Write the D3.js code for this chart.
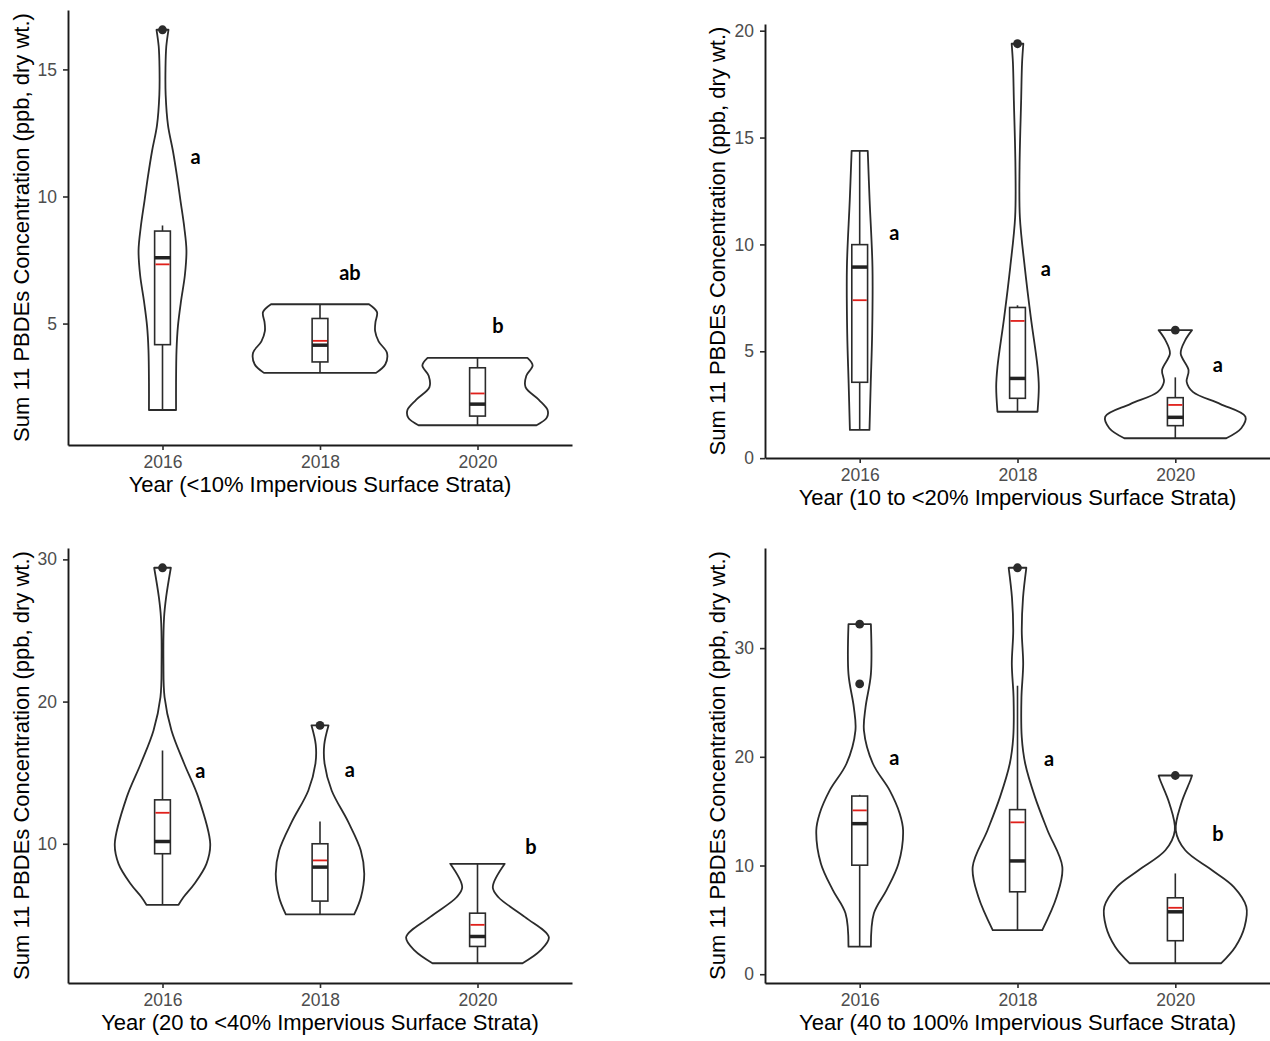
<!DOCTYPE html>
<html>
<head>
<meta charset="utf-8">
<script src="https://cdn.jsdelivr.net/npm/d3@7"></script>
<style>
  body { margin: 0; background: #fff; }
  svg { display: block; }
  text { font-family: "Liberation Sans", Arial, sans-serif; }
</style>
</head>
<body>
<svg id="chart" width="1270" height="1041"></svg>
<script>
// ---- data -------------------------------------------------------------
const years = ["2016", "2018", "2020"];
const xTitles = [
  "Year (<10% Impervious Surface Strata)",
  "Year (10 to <20% Impervious Surface Strata)",
  "Year (20 to <40% Impervious Surface Strata)",
  "Year (40 to 100% Impervious Surface Strata)"
];
const yTitle = "Sum 11 PBDEs Concentration (ppb, dry wt.)";
const yTicks = [[5, 10, 15], [0, 5, 10, 15, 20], [10, 20, 30], [0, 10, 20, 30]];

// violin outlines: [concentration, half-width in category units], top to bottom
const violinLt10 = [
  [[16.56, .038], [15.9, .024], [15.07, .019], [14.0, .020], [12.8, .035], [11.8, .066], [10.8, .092], [9.84, .114], [8.8, .138], [7.88, .152], [6.9, .142], [5.9, .118], [4.9, .098], [3.95, .089], [2.66, .086], [1.6, .086]],
  [[5.76, .311], [5.45, .362], [5.05, .352], [4.7, .350], [4.3, .372], [3.85, .425], [3.4, .415], [3.06, .356]],
  [[3.65, .317], [3.35, .350], [2.95, .310], [2.5, .305], [2.0, .390], [1.6, .445], [1.3, .440], [1.0, .375]]
];
const violin10to20 = [
  [[14.38, .051], [12.05, .063], [8.94, .081], [5.83, .079], [3.5, .070], [1.32, .062]],
  [[19.39, .037], [18.5, .029], [16.72, .023], [13.61, .013], [11.27, .015], [8.94, .046], [6.61, .084], [4.27, .127], [3.34, .135], [2.17, .127]],
  [[5.99, .106], [5.52, .063], [4.9, .034], [4.12, .084], [3.57, .072], [3.1, .111], [2.53, .286], [1.94, .444], [1.4, .418], [0.93, .323]]
];
const violin20to40 = [
  [[29.41, .053], [27.34, .023], [25.93, .010], [22.66, .006], [20.31, .013], [17.97, .057], [15.63, .138], [13.28, .227], [10.0, .303], [8.59, .279], [7.19, .203], [6.24, .133], [5.71, .102]],
  [[18.32, .054], [16.97, .027], [15.63, .029], [13.75, .074], [11.52, .180], [9.53, .259], [7.89, .281], [6.24, .260], [5.03, .217]],
  [[8.59, .173], [6.94, .097], [6.24, .133], [4.84, .302], [3.43, .453], [2.5, .400], [1.6, .286]]
];
const violin40to100 = [
  [[32.2, .071], [27.61, .071], [24.55, .037], [22.41, .027], [19.36, .084], [16.91, .190], [14.77, .254], [13.24, .275], [10.18, .246], [7.73, .170], [5.6, .090], [2.53, .071]],
  [[37.39, .056], [34.64, .035], [31.59, .027], [28.53, .036], [25.47, .025], [21.8, .027], [19.36, .049], [16.29, .111], [13.24, .190], [9.87, .284], [7.12, .248], [4.06, .157]],
  [[18.28, .106], [17.82, .095], [15.69, .037], [13.24, .003], [11.4, .063], [9.57, .233], [8.04, .370], [6.2, .450], [4.37, .439], [2.53, .381], [1.01, .291]]
];

// box-plot statistics per stratum (rows) and year (columns)
const whiskerLow  = [[1.6, 3.06, 1.0], [1.32, 2.17, 0.93], [5.71, 5.03, 1.6], [2.53, 4.06, 1.01]];
const q1          = [[4.17, 3.49, 1.36], [3.55, 2.8, 1.52], [9.3, 5.97, 2.78], [10.03, 7.58, 3.08]];
const medians     = [[7.59, 4.15, 1.83], [8.94, 3.73, 1.91], [10.16, 8.36, 3.48], [13.85, 10.42, 5.74]];
const q3          = [[8.64, 5.2, 3.26], [9.99, 7.05, 2.83], [13.09, 10.0, 5.12], [16.39, 15.14, 7.03]];
const whiskerHigh = [[8.86, 5.76, 3.65], [14.38, 7.15, 3.78], [16.56, 11.57, 8.59], [16.5, 26.54, 9.27]];
const means       = [[7.33, 4.32, 2.25], [7.39, 6.42, 2.49], [12.18, 8.83, 4.3], [15.07, 13.97, 6.11]];
const outliers    = [[[16.56], [], []], [[], [19.39], [5.99]], [[29.41], [18.32], []], [[32.2, 26.7], [37.39], [18.28]]];

// significance letters: text, concentration of baseline, offset from year (category units)
const letters  = [["a", "ab", "b"], ["a", "a", "a"], ["a", "a", "b"], ["a", "a", "b"]];
const letterY  = [[11.26, 6.73, 4.63], [10.22, 8.51, 4.01], [14.64, 14.68, 9.3], [19.27, 19.2, 12.23]];
const letterDx = [[0.21, 0.19, 0.13], [0.22, 0.18, 0.27], [0.24, 0.19, 0.34], [0.22, 0.20, 0.27]];

const violins = [violinLt10, violin10to20, violin20to40, violin40to100];

// ---- layout -----------------------------------------------------------
const panels = [
  { left: 68,  right: 572,  top: 10,  bottom: 445, titleX: 29 },
  { left: 765, right: 1270, top: 24,  bottom: 458, titleX: 725 },
  { left: 68,  right: 572,  top: 548, bottom: 983, titleX: 29 },
  { left: 765, right: 1270, top: 548, bottom: 983, titleX: 725 }
];

const svg = d3.select("#chart");
const ink = "#2b2b2b";

panels.forEach((p, i) => {
  const g = svg.append("g");
  const x = d3.scalePoint().domain(years).range([p.left, p.right]).padding(0.6);
  const step = x.step();

  // y range follows the data with a 5% margin on both ends
  const allVals = violins[i].flat().map(d => d[0]).concat(outliers[i].flat());
  const lo = d3.min(allVals), hi = d3.max(allVals), pad = (hi - lo) * 0.05;
  const y = d3.scaleLinear().domain([lo - pad, hi + pad]).range([p.bottom, p.top]);

  // violins
  years.forEach((yr, j) => {
    const cx = x(yr);
    const area = d3.area()
      .y(d => y(d[0]))
      .x0(d => cx - d[1] * step)
      .x1(d => cx + d[1] * step)
      .curve(d3.curveCatmullRom.alpha(0.5));
    g.append("path")
      .attr("d", area(violins[i][j]))
      .attr("fill", "none")
      .attr("stroke", ink)
      .attr("stroke-width", 1.8)
      .attr("stroke-linejoin", "round");
  });

  // box plots
  const bw = 0.05 * step;
  years.forEach((yr, j) => {
    const cx = x(yr);
    g.append("line").attr("x1", cx).attr("x2", cx)
      .attr("y1", y(q3[i][j])).attr("y2", y(whiskerHigh[i][j]))
      .attr("stroke", ink).attr("stroke-width", 1.6);
    g.append("line").attr("x1", cx).attr("x2", cx)
      .attr("y1", y(q1[i][j])).attr("y2", y(whiskerLow[i][j]))
      .attr("stroke", ink).attr("stroke-width", 1.6);
    g.append("rect")
      .attr("x", cx - bw).attr("width", 2 * bw)
      .attr("y", y(q3[i][j])).attr("height", y(q1[i][j]) - y(q3[i][j]))
      .attr("fill", "#fff").attr("stroke", ink).attr("stroke-width", 1.6);
    g.append("line").attr("x1", cx - bw).attr("x2", cx + bw)
      .attr("y1", y(medians[i][j])).attr("y2", y(medians[i][j]))
      .attr("stroke", "#222").attr("stroke-width", 3.5);
    g.append("line").attr("x1", cx - bw + 0.8).attr("x2", cx + bw - 0.8)
      .attr("y1", y(means[i][j])).attr("y2", y(means[i][j]))
      .attr("stroke", "#e0201b").attr("stroke-width", 1.8);
    outliers[i][j].forEach(v => {
      g.append("circle").attr("cx", cx).attr("cy", y(v)).attr("r", 4.4).attr("fill", ink);
    });
    g.append("text")
      .attr("x", cx + letterDx[i][j] * step)
      .attr("y", y(letterY[i][j]))
      .attr("text-anchor", "middle")
      .style("font-family", "Lato, 'Open Sans', sans-serif")
      .style("font-weight", 700)
      .style("font-size", "20px")
      .attr("fill", "#000")
      .text(letters[i][j]);
  });

  // axes
  const xAxis = g.append("g").attr("transform", `translate(0,${p.bottom})`)
    .call(d3.axisBottom(x).tickSize(5).tickPadding(6).tickSizeOuter(0));
  const yAxis = g.append("g").attr("transform", `translate(${p.left},0)`)
    .call(d3.axisLeft(y).tickValues(yTicks[i]).tickSize(5).tickPadding(6).tickSizeOuter(0));
  [xAxis, yAxis].forEach(a => {
    a.select(".domain").attr("stroke", "#1a1a1a").attr("stroke-width", 1.9);
    a.selectAll(".tick line").attr("stroke", ink).attr("stroke-width", 1.6);
    a.selectAll(".tick text")
      .attr("fill", "#4d4d4d")
      .style("font-family", "'Liberation Sans', Arial, sans-serif")
      .style("font-size", "17.5px");
  });

  // axis titles
  g.append("text")
    .attr("x", (p.left + p.right) / 2)
    .attr("y", p.bottom + 47)
    .attr("text-anchor", "middle")
    .style("font-size", "22px")
    .attr("fill", "#000")
    .text(xTitles[i]);
  g.append("text")
    .attr("transform", `translate(${p.titleX},${(p.top + p.bottom) / 2}) rotate(-90)`)
    .attr("text-anchor", "middle")
    .style("font-size", "22px")
    .attr("fill", "#000")
    .text(yTitle);
});
</script>
</body>
</html>
